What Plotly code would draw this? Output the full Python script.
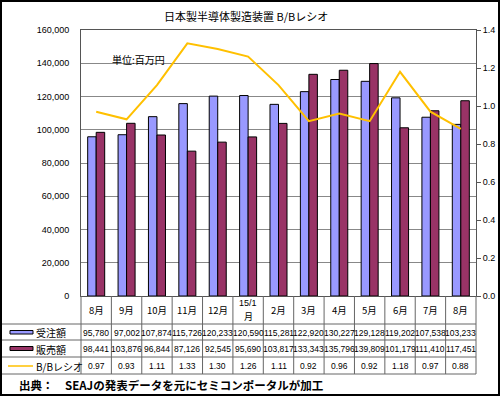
import plotly.graph_objects as go

months = ["8月", "9月", "10月", "11月", "12月", "15/1<br>月", "2月", "3月", "4月", "5月", "6月", "7月", "8月"]
orders = [95780, 97002, 107874, 115726, 120233, 120590, 115281, 122920, 130227, 129128, 119202, 107538, 103233]
sales = [98441, 103876, 96844, 87126, 92545, 95690, 103817, 133343, 135796, 139809, 101179, 111410, 117451]
bb = [0.97, 0.93, 1.11, 1.33, 1.30, 1.26, 1.11, 0.92, 0.96, 0.92, 1.18, 0.97, 0.88]

series_names = ["受注額", "販売額", "B/Bレシオ"]
title = "日本製半導体製造装置 B/Bレシオ"
unit_note = "単位:百万円"
source_note = "出典：　SEAJの発表データを元にセミコンポータルが加工"

BLUE = "#9999FF"
PURPLE = "#993366"
YELLOW = "#FFC000"
FONT = "Liberation Sans, Arial, Noto Sans CJK JP, sans-serif"
JFONT = "Noto Sans CJK JP, sans-serif"

W, H = 500, 396
L, R, T, B = 81, 476, 30, 296
PW, PH = R - L, B - T


def px(X):
    return (X - L) / PW


def py(Y):
    return (B - Y) / PH


n = len(months)
xs = list(range(n))

fig = go.Figure()
fig.add_trace(go.Bar(x=xs, y=orders, name=series_names[0], marker=dict(color=BLUE, line=dict(color="black", width=1))))
fig.add_trace(go.Bar(x=xs, y=sales, name=series_names[1], marker=dict(color=PURPLE, line=dict(color="black", width=1))))
fig.add_trace(go.Scatter(x=xs, y=bb, name=series_names[2], yaxis="y2", mode="lines", line=dict(color=YELLOW, width=2)))

shapes = []
annotations = []


def ann(x, y, text, xref="paper", xanchor="center", size=9, family=FONT):
    annotations.append(dict(x=x, xref=xref, y=y, yref="paper", text=text, showarrow=False,
                            xanchor=xanchor, yanchor="middle", font=dict(family=family, size=size, color="black")))


# table rows
row_lines = [324, 340, 357, 374]
for Y in row_lines:
    shapes.append(dict(type="line", xref="paper", yref="paper", x0=px(2), x1=px(R), y0=py(Y), y1=py(Y),
                       line=dict(color="#666", width=1)))
# vertical column separators
for i in range(n - 1):
    shapes.append(dict(type="line", xref="x", yref="paper", x0=i + 0.5, x1=i + 0.5, y0=py(B), y1=py(374),
                       line=dict(color="#666", width=1)))
shapes.append(dict(type="line", xref="paper", yref="paper", x0=0, x1=0, y0=py(B), y1=py(374), line=dict(color="#666", width=1)))
shapes.append(dict(type="line", xref="paper", yref="paper", x0=1, x1=1, y0=py(B), y1=py(374), line=dict(color="#666", width=1)))

row_centers = [310, 332.5, 349, 366]
for i in range(n):
    parts = months[i].split("<br>")
    if len(parts) == 1:
        ann(i, py(row_centers[0]), parts[0], xref="x", size=9.5, family=JFONT)
    else:
        ann(i, py(row_centers[0] - 7.5), parts[0], xref="x", size=9, family=FONT)
        ann(i, py(row_centers[0] + 6.5), parts[1], xref="x", size=9, family=JFONT)
    ann(i, py(row_centers[1]), f"{orders[i]:,}", xref="x", size=8.5)
    ann(i, py(row_centers[2]), f"{sales[i]:,}", xref="x", size=8.5)
    ann(i, py(row_centers[3]), f"{bb[i]:.2f}", xref="x", size=8.5)

# legend keys in table
shapes.append(dict(type="rect", xref="paper", yref="paper", x0=px(10), x1=px(33), y0=py(330.5), y1=py(334),
                   fillcolor=BLUE, line=dict(color="black", width=1)))
shapes.append(dict(type="rect", xref="paper", yref="paper", x0=px(10), x1=px(33), y0=py(346.5), y1=py(350.5),
                   fillcolor=PURPLE, line=dict(color="black", width=1)))
shapes.append(dict(type="line", xref="paper", yref="paper", x0=px(8), x1=px(33), y0=py(366), y1=py(366),
                   line=dict(color=YELLOW, width=1.5)))
for name, yc in zip(series_names, row_centers[1:]):
    ann(px(34), py(yc), name, xanchor="left", size=10, family=JFONT)

# notes
ann(px(110), py(59), unit_note, xanchor="left", size=10, family=JFONT)
ann(px(17), py(385), "<b>" + source_note + "</b>", xanchor="left", size=11.5, family=JFONT)
ann(px(246), py(16), title, size=11, family=JFONT)

# outer border
shapes.append(dict(type="rect", xref="paper", yref="paper", x0=px(1), x1=px(499), y0=py(1), y1=py(395),
                   line=dict(color="black", width=2)))

fig.update_layout(
    width=W, height=H,
    margin=dict(l=L, r=W - R, t=T, b=H - B, pad=0, autoexpand=False),
    paper_bgcolor="white", plot_bgcolor="white",
    barmode="group", bargap=0.44, bargroupgap=0,
    showlegend=False,
    font=dict(family=FONT, size=9, color="black"),
    xaxis=dict(range=[-0.5, n - 0.5], showticklabels=False, ticks="", showgrid=False, zeroline=False,
               showline=True, linecolor="#555", linewidth=1, mirror=True),
    yaxis=dict(range=[0, 160000], dtick=20000, tickformat=",", showgrid=True, gridcolor="#888", gridwidth=1,
               zeroline=False, showline=True, linecolor="#555", linewidth=1, ticks="", ticklabelstandoff=9,
               tickfont=dict(family=FONT, size=9)),
    yaxis2=dict(range=[0, 1.4], dtick=0.2, tickformat=".1f", overlaying="y", side="right", showgrid=False,
                zeroline=False, showline=True, linecolor="#555", linewidth=1, ticks="outside", ticklen=4,
                tickcolor="#555", tickfont=dict(family=FONT, size=9)),
    shapes=shapes,
    annotations=annotations,
)

fig.write_html("out.html", config={"displayModeBar": False},
               post_script="document.body.style.margin='0';document.body.style.overflow='hidden';")
